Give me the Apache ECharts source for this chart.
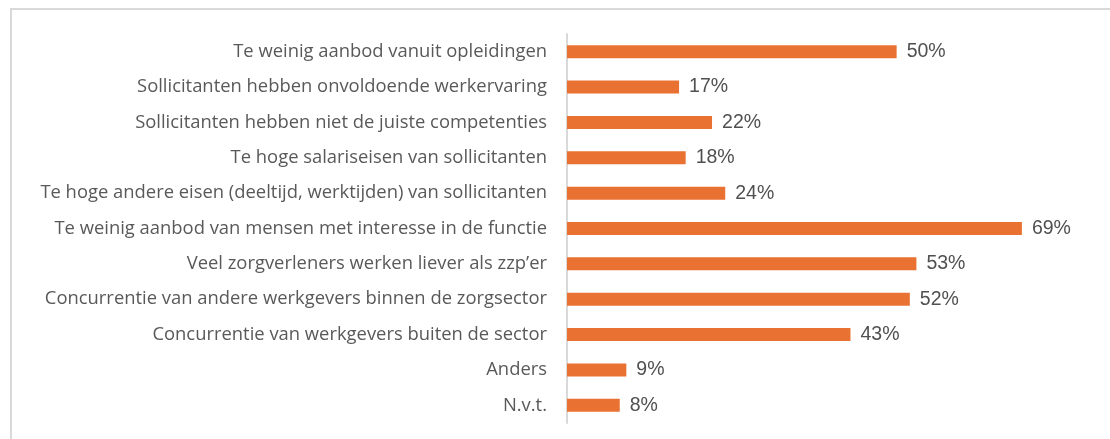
<!DOCTYPE html>
<html>
<head>
<meta charset="utf-8">
<script src="https://cdn.jsdelivr.net/npm/echarts@6/dist/echarts.min.js"></script>
<style>
  html, body { margin: 0; padding: 0; background: #fff; }
  #frame { position: absolute; left: 10px; top: 8px; width: 1100px; height: 431px;
    border-top: 2px solid #d9d9d9; border-left: 2px solid #d9d9d9; box-sizing: border-box; }
  #chart { position: absolute; left: 0; top: 0; width: 1110px; height: 439px; }
</style>
</head>
<body>
<div id="frame"></div>
<div id="chart"></div>
<script>
// redenen (van boven naar beneden)
const categories = [
  'Te weinig aanbod vanuit opleidingen',
  'Sollicitanten hebben onvoldoende werkervaring',
  'Sollicitanten hebben niet de juiste competenties',
  'Te hoge salariseisen van sollicitanten',
  'Te hoge andere eisen (deeltijd, werktijden) van sollicitanten',
  'Te weinig aanbod van mensen met interesse in de functie',
  'Veel zorgverleners werken liever als zzp\u2019er',
  'Concurrentie van andere werkgevers binnen de zorgsector',
  'Concurrentie van werkgevers buiten de sector',
  'Anders',
  'N.v.t.'
]
const values = [50, 17, 22, 18, 24, 69, 53, 52, 43, 9, 8]

const chart = echarts.init(document.getElementById('chart'))

const option = {
  animation: false,
  grid: { left: 567, right: 9, top: 34, bottom: 16 },
  xAxis: {
    type: 'value',
    min: 0,
    max: 81,
    show: false
  },
  yAxis: {
    type: 'category',
    data: categories,
    inverse: true,
    axisLine: { lineStyle: { color: '#d9d9d9', width: 2 } },
    axisTick: { show: false },
    axisLabel: {
      color: '#595959',
      fontFamily: 'Open Sans',
      fontSize: 18.4,
      margin: 20
    }
  },
  series: [{
    type: 'bar',
    data: values,
    barWidth: 13,
    itemStyle: { color: '#E97132' },
    label: {
      show: true,
      position: 'right',
      distance: 10,
      formatter: '{c}%',
      color: '#505050',
      fontFamily: 'Liberation Sans',
      fontSize: 19.5
    }
  }]
}

chart.setOption(option)
</script>
</body>
</html>
